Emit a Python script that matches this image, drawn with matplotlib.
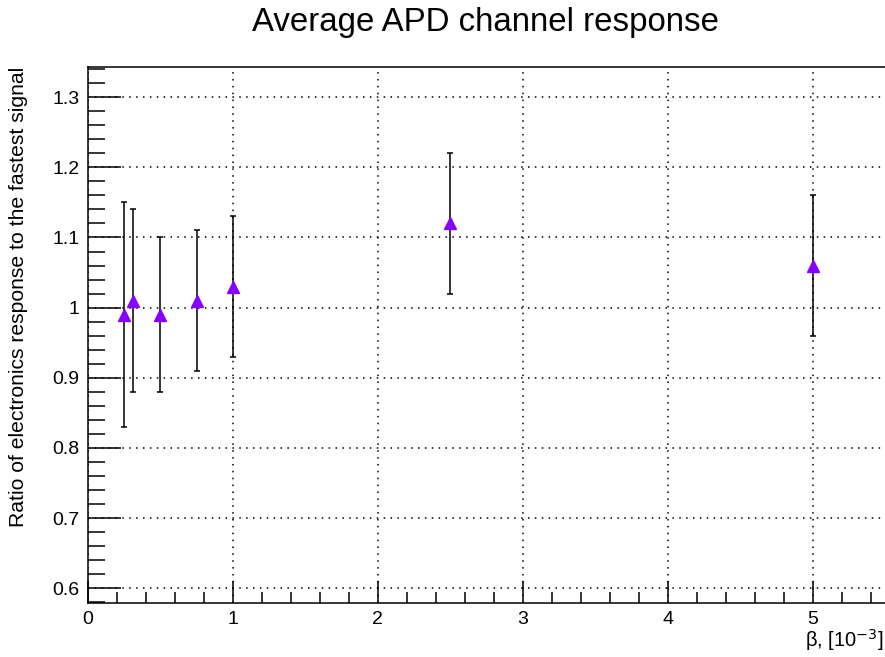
import matplotlib.pyplot as plt
from matplotlib.ticker import MultipleLocator, FormatStrFormatter

plt.rcParams['font.family'] = ['Liberation Sans', 'DejaVu Sans']

# beta values [1e-3] and average response ratios with uncertainties
beta = [0.25, 0.31, 0.5, 0.75, 1.0, 2.5, 5.0]
ratio = [0.99, 1.01, 0.99, 1.01, 1.03, 1.12, 1.06]
ratio_err = [0.16, 0.13, 0.11, 0.10, 0.10, 0.10, 0.10]

fig = plt.figure(figsize=(8.85, 6.57), dpi=100)
ax = fig.add_axes([88 / 885, 54 / 657, 797 / 885, 536 / 657])

ax.errorbar(beta, ratio, yerr=ratio_err, fmt='none', ecolor='black',
            elinewidth=1.1, capsize=2.5, capthick=1.1, zorder=3)
ax.plot(beta, ratio, linestyle='none', marker='^', markersize=9,
        color='#8800ff', markeredgecolor='#8800ff', zorder=4)

ax.set_xlim(0, 5.5)
ax.set_ylim(0.579, 1.343)

ax.xaxis.set_major_locator(MultipleLocator(1))
ax.xaxis.set_minor_locator(MultipleLocator(0.2))
ax.yaxis.set_major_locator(MultipleLocator(0.1))
ax.yaxis.set_minor_locator(MultipleLocator(0.02))
ax.yaxis.set_major_formatter(FormatStrFormatter('%g'))

ax.grid(True, which='major', color='black', linestyle=(0, (1.0, 3.5)), linewidth=1.1)
ax.set_axisbelow(True)

ax.tick_params(axis='both', which='both', direction='in', labelsize=14, width=1.1)
ax.tick_params(axis='x', which='major', length=16, pad=6, top=False)
ax.tick_params(axis='x', which='minor', length=8, top=False)
ax.tick_params(axis='y', which='major', length=24, pad=6, right=False)
ax.tick_params(axis='y', which='minor', length=12, right=False)

ax.spines['right'].set_visible(False)
for side in ('left', 'bottom', 'top'):
    ax.spines[side].set_linewidth(1.1)

fig.text(486 / 885, 1 - 22 / 657, 'Average APD channel response',
         ha='center', va='center', fontsize=23.8)
fig.text(19 / 885, 1 - 67 / 657, 'Ratio of electronics response to the fastest signal',
         rotation=90, ha='center', va='top', fontsize=15.2)
fig.text(883 / 885, 1 - 640 / 657, r'β, [10$^{-3}$]',
         ha='right', va='center', fontsize=14.5)

fig.savefig('out.png', dpi=100)
